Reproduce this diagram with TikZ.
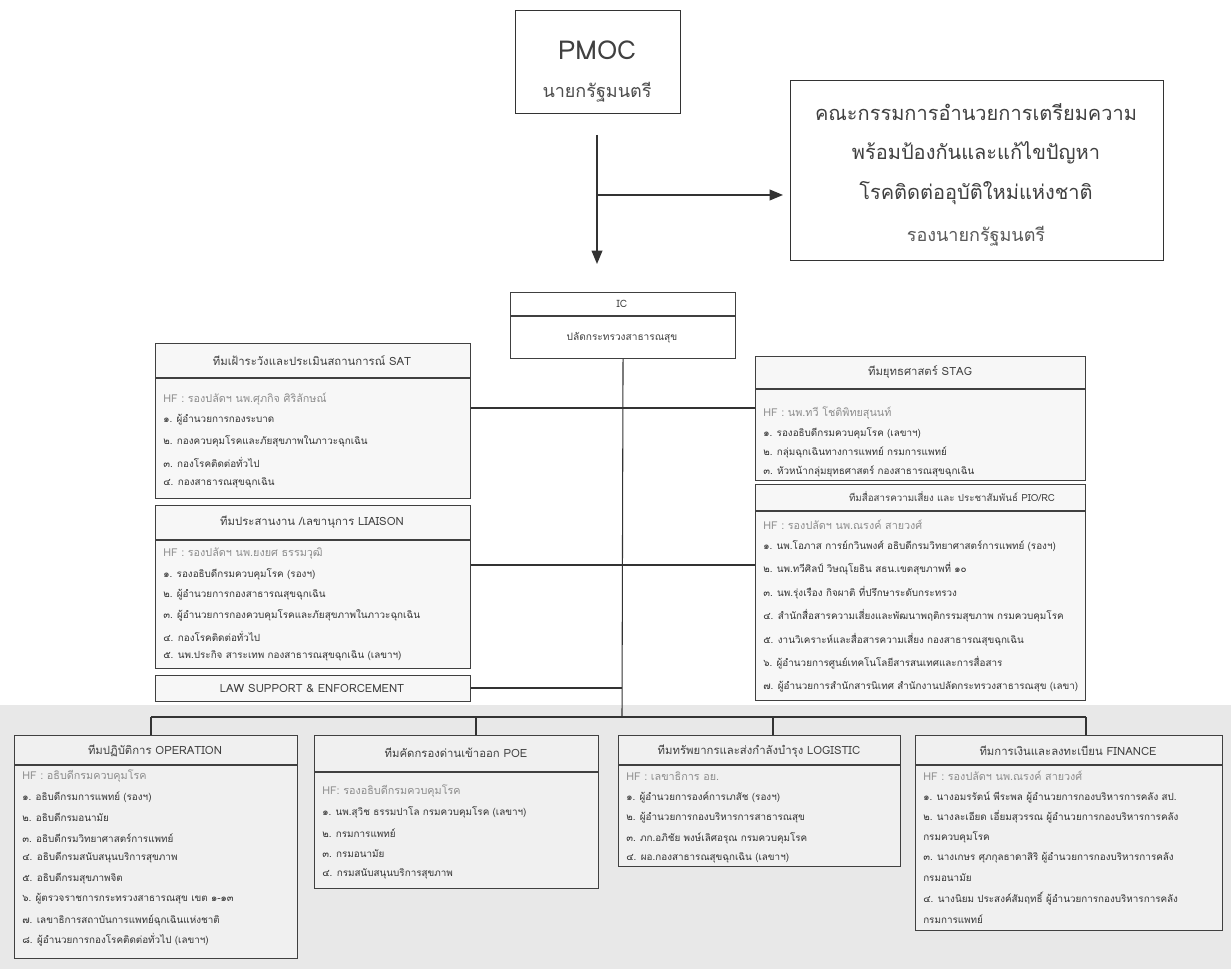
\documentclass[tikz,border=0pt]{standalone}
\usepackage{fontspec}
\setmainfont[Script=Thai]{Loma}
\usetikzlibrary{arrows.meta}
\begin{document}
\begin{tikzpicture}[x=0.75pt,y=-0.75pt,
  bigbox/.style={draw=black!80, line width=0.9pt, fill=white, inner sep=0},
  tbox/.style={draw=black!75, line width=0.8pt, fill=black!3, inner sep=0},
  dims/.style 2 args={minimum width=#1*0.75pt, minimum height=#2*0.75pt, anchor=north west},
  divline/.style={draw=black!75, line width=1.1pt},
  conn/.style={draw=black!80, line width=0.8pt},
  arr/.style={draw=black!80, line width=1.1pt, -{Triangle[length=10pt,width=8pt]}},
  ttl/.style={inner sep=0, font=\fontsize{8.5}{10}\selectfont, text=black!75},
  ictl/.style={inner sep=0, font=\fontsize{7.6}{9}\selectfont, text=black!75},
  hf/.style={anchor=west, inner sep=0, font=\fontsize{8.1}{9}\selectfont, text=black!45},
  itm/.style={anchor=west, inner sep=0, font=\fontsize{7.4}{9}\selectfont, text=black!80}]
\useasboundingbox (0,0) rectangle (1231,969);
\fill[white] (0,0) rectangle (1231,969);
\fill[black!9] (0,705) rectangle (1231,969);

% ---------- top ----------
\node[bigbox, dims={165}{103}] (pmoc) at (515,10) {};
\node[inner sep=0, font=\fontsize{19.5}{23}\selectfont, text=black!75] (pmoct) at (597,50) {PMOC};
\node[inner sep=0, font=\fontsize{13.5}{16}\selectfont, text=black!70] (pmocs) at (597,92) {นายกรัฐมนตรี};

\node[bigbox, dims={373}{180}] (ncom) at (790,80) {};
\node[inner sep=0, font=\fontsize{15}{18}\selectfont, text=black!75] (n1) at (976,112) {คณะกรรมการอำนวยการเตรียมความ};
\node[inner sep=0, font=\fontsize{15}{18}\selectfont, text=black!75] (n2) at (976,153) {พร้อมป้องกันและแก้ไขปัญหา};
\node[inner sep=0, font=\fontsize{15}{18}\selectfont, text=black!75] (n3) at (976,193) {โรคติดต่ออุบัติใหม่แห่งชาติ};
\node[inner sep=0, font=\fontsize{13.5}{16}\selectfont, text=black!65] (n4) at (976,236) {รองนายกรัฐมนตรี};

\coordinate (a0) at (597,135);
\coordinate (a1) at (597,264);
\coordinate (ab) at (597,195);
\draw[arr] (a0) -- (a1);
\draw[arr, shorten >=7*0.75pt] (ab) -- (ncom.west |- ab);

% ---------- IC ----------
\node[tbox, fill=white, dims={225}{66}] (ic) at (510,292) {};
\draw[divline] (ic.west |- 0,316) -- (ic.east |- 0,316);
\node[ictl] (ict) at (622,304) {IC};
\node[ictl] (ics) at (622,338) {ปลัดกระทรวงสาธารณสุข};
\coordinate (bus) at (622,717);
\draw[conn] (ic.south) -- (bus);

% ---------- SAT ----------
\node[tbox, dims={315}{155}] (sat) at (155,343) {};
\draw[divline] (sat.west |- 0,378) -- (sat.east |- 0,378);
\node[ttl] (satt) at (312,361) {ทีมเฝ้าระวังและประเมินสถานการณ์ SAT};
\node[hf] (sath) at (163,399) {HF : รองปลัดฯ นพ.ศุภกิจ ศิริลักษณ์};
\node[itm] (sat1) at (163,420) {๑. ผู้อำนวยการกองระบาด};
\node[itm] (sat2) at (163,441) {๒. กองควบคุมโรคและภัยสุขภาพในภาวะฉุกเฉิน};
\node[itm] (sat3) at (163,462) {๓. กองโรคติดต่อทั่วไป};
\node[itm] (sat4) at (163,483) {๔. กองสาธารณสุขฉุกเฉิน};

% ---------- STAG ----------
\node[tbox, dims={330}{124}] (stag) at (755,356) {};
\draw[divline] (stag.west |- 0,389) -- (stag.east |- 0,389);
\node[ttl] (stagt) at (920,372) {ทีมยุทธศาสตร์ STAG};
\node[hf] (stagh) at (763,413) {HF : นพ.ทวี โชติพิทยสุนนท์};
\node[itm] (stag1) at (763,433) {๑. รองอธิบดีกรมควบคุมโรค (เลขาฯ)};
\node[itm] (stag2) at (763,452) {๒. กลุ่มฉุกเฉินทางการแพทย์ กรมการแพทย์};
\node[itm] (stag3) at (763,471) {๓. หัวหน้ากลุ่มยุทธศาสตร์ กองสาธารณสุขฉุกเฉิน};

\coordinate (j1) at (622,408);
\draw[conn] (sat.east |- j1) -- (stag.west |- j1);

% ---------- LIAISON ----------
\node[tbox, dims={315}{163}] (lia) at (155,505) {};
\draw[divline] (lia.west |- 0,540) -- (lia.east |- 0,540);
\node[ttl] (liat) at (312,522) {ทีมประสานงาน /เลขานุการ LIAISON};
\node[hf] (liah) at (163,554) {HF : รองปลัดฯ นพ.ยงยศ ธรรมวุฒิ};
\node[itm] (lia1) at (163,574) {๑. รองอธิบดีกรมควบคุมโรค (รองฯ)};
\node[itm] (lia2) at (163,595) {๒. ผู้อำนวยการกองสาธารณสุขฉุกเฉิน};
\node[itm] (lia3) at (163,615) {๓. ผู้อำนวยการกองควบคุมโรคและภัยสุขภาพในภาวะฉุกเฉิน};
\node[itm] (lia4) at (163,636) {๔. กองโรคติดต่อทั่วไป};
\node[itm] (lia5) at (163,656) {๕. นพ.ประกิจ สาระเทพ กองสาธารณสุขฉุกเฉิน (เลขาฯ)};

% ---------- PIO/RC ----------
\node[tbox, dims={330}{216}] (pio) at (755,484) {};
\draw[divline] (pio.west |- 0,511) -- (pio.east |- 0,511);
\node[ttl, font=\fontsize{7.3}{9}\selectfont] (piot) at (952,497) {ทีมสื่อสารความเสี่ยง และ ประชาสัมพันธ์ PIO/RC};
\node[hf] (pioh) at (763,525) {HF : รองปลัดฯ นพ.ณรงค์ สายวงศ์};
\node[itm] (pio1) at (763,546) {๑. นพ.โอภาส การย์กวินพงศ์  อธิบดีกรมวิทยาศาสตร์การแพทย์ (รองฯ)};
\node[itm] (pio2) at (763,569) {๒. นพ.ทวีศิลป์ วิษณุโยธิน   สธน.เขตสุขภาพที่ ๑๐};
\node[itm] (pio3) at (763,593) {๓. นพ.รุ่งเรือง กิจผาติ ที่ปรึกษาระดับกระทรวง};
\node[itm] (pio4) at (763,616) {๔. สำนักสื่อสารความเสี่ยงและพัฒนาพฤติกรรมสุขภาพ กรมควบคุมโรค};
\node[itm] (pio5) at (763,640) {๕. งานวิเคราะห์และสื่อสารความเสี่ยง กองสาธารณสุขฉุกเฉิน};
\node[itm] (pio6) at (763,663) {๖. ผู้อำนวยการศูนย์เทคโนโลยีสารสนเทศและการสื่อสาร};
\node[itm] (pio7) at (763,687) {๗. ผู้อำนวยการสำนักสารนิเทศ สำนักงานปลัดกระทรวงสาธารณสุข (เลขา)};

\coordinate (j2) at (622,565);
\draw[conn] (lia.east |- j2) -- (pio.west |- j2);

% ---------- LAW ----------
\node[tbox, dims={315}{26}] (law) at (155,675) {};
\node[ttl] (lawt) at (312,688) {LAW SUPPORT \& ENFORCEMENT};
\coordinate (j3) at (622,688);
\draw[conn] (law.east |- j3) -- (j3);

% ---------- bus ----------
\coordinate (bl) at (151,717);
\coordinate (br) at (1086,717);
\draw[conn] (bl) -- (br);

% ---------- OPERATION ----------
\node[tbox, fill=black!6, dims={283}{223}] (ops) at (14,735) {};
\draw[divline] (ops.west |- 0,765) -- (ops.east |- 0,765);
\node[ttl] (opst) at (155,751) {ทีมปฏิบัติการ OPERATION};
\node[hf] (opsh) at (22,776) {HF : อธิบดีกรมควบคุมโรค};
\node[itm] (ops1) at (22,797) {๑. อธิบดีกรมการแพทย์ (รองฯ)};
\node[itm] (ops2) at (22,817) {๒. อธิบดีกรมอนามัย};
\node[itm] (ops3) at (22,838) {๓. อธิบดีกรมวิทยาศาสตร์การแพทย์};
\node[itm] (ops4) at (22,858) {๔. อธิบดีกรมสนับสนุนบริการสุขภาพ};
\node[itm] (ops5) at (22,879) {๕. อธิบดีกรมสุขภาพจิต};
\node[itm] (ops6) at (22,899) {๖. ผู้ตรวจราชการกระทรวงสาธารณสุข เขต ๑-๑๓};
\node[itm] (ops7) at (22,920) {๗. เลขาธิการสถาบันการแพทย์ฉุกเฉินแห่งชาติ};
\node[itm] (ops8) at (22,940) {๘. ผู้อำนวยการกองโรคติดต่อทั่วไป (เลขาฯ)};

% ---------- POE ----------
\node[tbox, fill=black!6, dims={284}{153}] (poe) at (314,735) {};
\draw[divline] (poe.west |- 0,772) -- (poe.east |- 0,772);
\node[ttl] (poet) at (456,753) {ทีมคัดกรองด่านเข้าออก POE};
\node[hf] (poeh) at (322,791) {HF: รองอธิบดีกรมควบคุมโรค};
\node[itm] (poe1) at (322,812) {๑. นพ.สุวิช ธรรมปาโล กรมควบคุมโรค (เลขาฯ)};
\node[itm] (poe2) at (322,833) {๒. กรมการแพทย์};
\node[itm] (poe3) at (322,854) {๓. กรมอนามัย};
\node[itm] (poe4) at (322,874) {๔. กรมสนับสนุนบริการสุขภาพ};

% ---------- LOGISTIC ----------
\node[tbox, fill=black!6, dims={282}{131}] (log) at (618,735) {};
\draw[divline] (log.west |- 0,765) -- (log.east |- 0,765);
\node[ttl] (logt) at (759,751) {ทีมทรัพยากรและส่งกำลังบำรุง LOGISTIC};
\node[hf] (logh) at (626,776) {HF : เลขาธิการ อย.};
\node[itm] (log1) at (626,797) {๑. ผู้อำนวยการองค์การเภสัช (รองฯ)};
\node[itm] (log2) at (626,818) {๒. ผู้อำนวยการกองบริหารการสาธารณสุข};
\node[itm] (log3) at (626,838) {๓. ภก.อภิชัย พงษ์เลิศอรุณ กรมควบคุมโรค};
\node[itm] (log4) at (626,858) {๔. ผอ.กองสาธารณสุขฉุกเฉิน (เลขาฯ)};

% ---------- FINANCE ----------
\node[tbox, fill=black!6, dims={307}{195}] (fin) at (915,735) {};
\draw[divline] (fin.west |- 0,765) -- (fin.east |- 0,765);
\node[ttl] (fint) at (1068,751) {ทีมการเงินและลงทะเบียน FINANCE};
\node[hf] (finh) at (923,776) {HF : รองปลัดฯ นพ.ณรงค์ สายวงศ์};
\node[itm] (fin1) at (923,797) {๑. นางอมรรัตน์ พีระพล ผู้อำนวยการกองบริหารการคลัง สป.};
\node[itm] (fin2) at (923,817) {๒. นางละเอียด เอี่ยมสุวรรณ ผู้อำนวยการกองบริหารการคลัง};
\node[itm] (fin2b) at (923,837) {กรมควบคุมโรค};
\node[itm] (fin3) at (923,858) {๓. นางเกษร ศุภกุลธาดาสิริ ผู้อำนวยการกองบริหารการคลัง};
\node[itm] (fin3b) at (923,878) {กรมอนามัย};
\node[itm] (fin4) at (923,899) {๔. นางนิยม ประสงค์สัมฤทธิ์ ผู้อำนวยการกองบริหารการคลัง};
\node[itm] (fin4b) at (923,919) {กรมการแพทย์};

% ---------- drops ----------
\draw[conn] (bl) -- (bl |- ops.north);
\draw[conn] (poe.north -| 476,0) -- (476,717);
\draw[conn] (log.north -| 773,0) -- (773,717);
\draw[conn] (br) -- (br |- fin.north);
\end{tikzpicture}
\end{document}
